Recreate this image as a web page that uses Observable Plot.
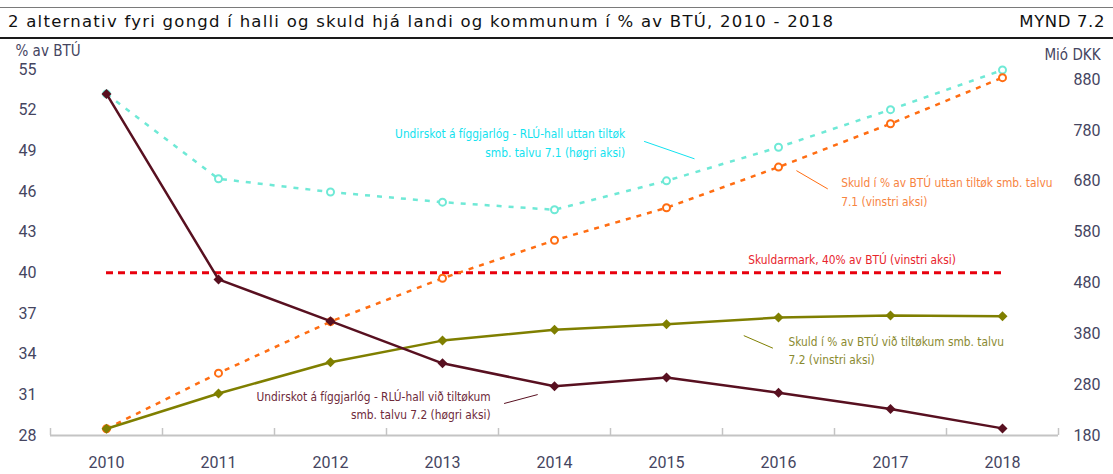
<!DOCTYPE html>
<html><head><meta charset="utf-8">
<script src="https://cdn.jsdelivr.net/npm/d3@7"></script>
<script src="https://cdn.jsdelivr.net/npm/@observablehq/plot@0.6"></script>
<style>
body{margin:0;background:#fff;width:1113px;height:474px;overflow:hidden}
#head{position:relative;height:40px;width:1113px}
#rule1{position:absolute;left:0;width:1113px;top:7px;height:1px;background:#7a7a7a}
#rule2{position:absolute;left:0;width:1113px;top:37px;height:2px;background:#1a1a1a}
#title{position:absolute;left:8px;top:12px;font:16.5px "DejaVu Sans",sans-serif;letter-spacing:1.25px;color:#111;white-space:nowrap}
#mynd{position:absolute;right:8px;top:12px;font:16.5px "DejaVu Sans",sans-serif;letter-spacing:0.6px;color:#111}
#chart svg{display:block}
</style></head>
<body>
<div id="head"><div id="rule1"></div><div id="title"></div><div id="mynd"></div><div id="rule2"></div></div>
<div id="chart"></div>
<script>
const titleText = "2 alternativ fyri gongd í halli og skuld hjá landi og kommunum í % av BTÚ, 2010 - 2018";
const figureNo = "MYND 7.2";
const years = [2010, 2011, 2012, 2013, 2014, 2015, 2016, 2017, 2018];
// left axis (% av BTÚ)
const debtNoMeasures = [28.5, 32.6, 36.4, 39.6, 42.4, 44.8, 47.8, 51.0, 54.4];
const debtWithMeasures = [28.5, 31.1, 33.4, 35.0, 35.8, 36.2, 36.7, 36.85, 36.8];
const debtLimit = 40;
// right axis (Mió DKK)
const deficitNoMeasures = [852, 685, 659, 639, 624, 681, 747, 821, 899];
const deficitWithMeasures = [852, 487, 405, 322, 277, 294, 264, 232, 194];
const leftTicks = [28, 31, 34, 37, 40, 43, 46, 49, 52, 55];
const rightTicks = [180, 280, 380, 480, 580, 680, 780, 880];
const leftDomain = [28, 55];
const rightDomain = [180, 900];
const leftLabel = "% av BTÚ";
const rightLabel = "Mió DKK";
const labelCyan = "Undirskot á fíggjarlóg - RLÚ-hall uttan tiltøk\nsmb. talvu 7.1 (høgri aksi)";
const labelOrange = "Skuld í % av BTÚ uttan tiltøk smb. talvu\n7.1 (vinstri aksi)";
const labelRed = "Skuldarmark, 40% av BTÚ (vinstri aksi)";
const labelOlive = "Skuld í % av BTÚ við tiltøkum smb. talvu\n7.2 (vinstri aksi)";
const labelMaroon = "Undirskot á fíggjarlóg - RLÚ-hall við tiltøkum\nsmb. talvu 7.2 (høgri aksi)";
// annotation anchors in data units (year, left-axis value)
const annCyan = {x: 2014.63, y: 49.7, x1: 2014.80, y1: 49.70, x2: 2015.25, y2: 48.41};
const annOrange = {x: 2016.56, y: 46.1, x1: 2016.16, y1: 47.54, x2: 2016.44, y2: 46.19};
const annRed = {x: 2015.73, y: 40.98};
const annOlive = {x: 2016.09, y: 34.34, x1: 2015.69, y1: 35.37, x2: 2015.95, y2: 34.44};
const annMaroon = {x: 2013.43, y: 30.30, x1: 2013.55, y1: 30.36, x2: 2013.85, y2: 31.02};

document.getElementById("title").textContent = titleText;
document.getElementById("mynd").textContent = figureNo;

const toLeft = r => leftDomain[0] + (r - rightDomain[0]) * (leftDomain[1] - leftDomain[0]) / (rightDomain[1] - rightDomain[0]);
const fromLeft = l => rightDomain[0] + (l - leftDomain[0]) * (rightDomain[1] - rightDomain[0]) / (leftDomain[1] - leftDomain[0]);

const rows = years.map((year, i) => ({
  year,
  orange: debtNoMeasures[i],
  olive: debtWithMeasures[i],
  cyan: toLeft(deficitNoMeasures[i]),
  maroon: toLeft(deficitWithMeasures[i])
}));
const bounds = d3.range(years[0] - 0.5, years[years.length - 1] + 1, 1);

const C = {cyan: "#6fe9d6", cyanText: "#12e2ef", orange: "#ff6d12", orangeText: "#f7843f",
  red: "#e8000d", redText: "#e8242c", olive: "#7f7f00", oliveText: "#8a8a30",
  maroon: "#581020", maroonText: "#6e2a3a", axis: "#c4c4c4", tick: "#45455f"};
const narrow = "'DejaVu Sans Condensed','DejaVu Sans',sans-serif";
const ann = {fontFamily: narrow, fontSize: 13, className: "ann"};

const chart = Plot.plot({
  width: 1113, height: 434,
  marginTop: 29, marginBottom: 39, marginLeft: 50, marginRight: 55,
  x: {type: "linear", domain: [years[0] - 0.5, years[years.length - 1] + 0.5]},
  y: {domain: leftDomain},
  style: {fontFamily: "Roboto, sans-serif", fontSize: "16px", color: C.tick, background: "white"},
  marks: [
    Plot.ruleY([leftDomain[0]], {stroke: C.axis, strokeWidth: 2}),
    Plot.ruleX(bounds, {y1: leftDomain[0], y2: leftDomain[0], insetTop: -7, stroke: C.axis, strokeWidth: 1.5}),
    Plot.axisX(years, {tickSize: 0, tickPadding: 21, tickFormat: d => String(d), label: null}),
    Plot.axisY(leftTicks, {anchor: "left", tickSize: 0, tickPadding: 14, label: null}),
    Plot.axisY(rightTicks.map(toLeft), {anchor: "right", tickSize: 0, tickPadding: 15, tickFormat: l => String(Math.round(fromLeft(l))), label: null}),
    Plot.text([leftLabel], {frameAnchor: "top-left", dx: -35, dy: -24, textAnchor: "start", fontFamily: narrow, fontSize: 15, fill: C.tick}),
    Plot.text([rightLabel], {frameAnchor: "top-right", dx: 42, dy: -20, textAnchor: "end", fontFamily: narrow, fontSize: 15, fill: C.tick}),
    // debt limit
    Plot.ruleY([debtLimit], {x1: years[0], x2: years[years.length - 1], stroke: C.red, strokeWidth: 3, strokeDasharray: "7,5", strokeLinecap: "butt"}),
    // cyan
    Plot.line(rows, {x: "year", y: "cyan", stroke: C.cyan, strokeWidth: 2.5, strokeDasharray: "5,7", strokeLinecap: "butt"}),
    Plot.dot(rows, {x: "year", y: "cyan", r: 3.5, stroke: C.cyan, strokeWidth: 2, fill: "white"}),
    // orange
    Plot.line(rows, {x: "year", y: "orange", stroke: C.orange, strokeWidth: 2.5, strokeDasharray: "5,6", strokeLinecap: "butt"}),
    Plot.dot(rows, {x: "year", y: "orange", r: 3.5, stroke: C.orange, strokeWidth: 2, fill: "white"}),
    // olive
    Plot.line(rows, {x: "year", y: "olive", stroke: C.olive, strokeWidth: 2.5}),
    Plot.dot(rows, {x: "year", y: "olive", r: 4.5, symbol: "diamond2", fill: C.olive}),
    // maroon
    Plot.line(rows, {x: "year", y: "maroon", stroke: C.maroon, strokeWidth: 2.5}),
    Plot.dot(rows, {x: "year", y: "maroon", r: 4.5, symbol: "diamond2", fill: C.maroon}),
    // leader lines
    Plot.link([annCyan], {x1: "x1", y1: "y1", x2: "x2", y2: "y2", stroke: C.cyanText, strokeWidth: 1}),
    Plot.link([annOrange], {x1: "x1", y1: "y1", x2: "x2", y2: "y2", stroke: C.orange, strokeWidth: 1}),
    Plot.link([annOlive], {x1: "x1", y1: "y1", x2: "x2", y2: "y2", stroke: C.olive, strokeWidth: 1}),
    Plot.link([annMaroon], {x1: "x1", y1: "y1", x2: "x2", y2: "y2", stroke: C.maroon, strokeWidth: 1}),
    // labels
    Plot.text([annCyan], {x: "x", y: "y", text: () => labelCyan, textAnchor: "end", lineHeight: 1.5, fill: C.cyanText, ...ann}),
    Plot.text([annOrange], {x: "x", y: "y", text: () => labelOrange, textAnchor: "start", lineHeight: 1.45, fill: C.orangeText, ...ann}),
    Plot.text([annRed], {x: "x", y: "y", text: () => labelRed, textAnchor: "start", fill: C.redText, ...ann}),
    Plot.text([annOlive], {x: "x", y: "y", text: () => labelOlive, textAnchor: "start", lineHeight: 1.4, fill: C.oliveText, ...ann}),
    Plot.text([annMaroon], {x: "x", y: "y", text: () => labelMaroon, textAnchor: "end", lineHeight: 1.4, fill: C.maroonText, ...ann})
  ]
});
// horizontally condense annotation text to mimic the narrow face
d3.select(chart).selectAll("g.ann text").each(function() {
  const t = this.getAttribute("transform") || "";
  this.setAttribute("transform", t + " scale(0.91,1)");
});
document.getElementById("chart").appendChild(chart);
</script>
</body></html>
